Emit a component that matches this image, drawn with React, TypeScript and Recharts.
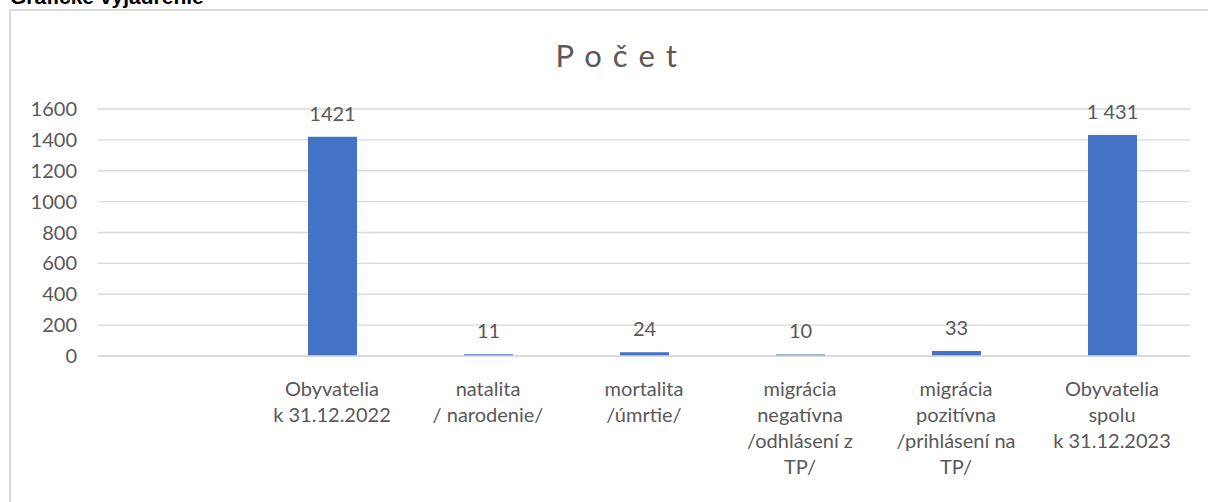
import React from 'react';
import { BarChart, Bar, XAxis, YAxis, CartesianGrid, LabelList } from 'recharts';

// categories (first slot is empty in the source chart)
const categories: string[][] = [
  [],
  ['Obyvatelia', 'k 31.12.2022'],
  ['natalita', '/ narodenie/'],
  ['mortalita', '/úmrtie/'],
  ['migrácia', 'negatívna', '/odhlásení z', 'TP/'],
  ['migrácia', 'pozitívna', '/prihlásení na', 'TP/'],
  ['Obyvatelia', 'spolu', 'k 31.12.2023'],
];
const values: (number | null)[] = [null, 1421, 11, 24, 10, 33, 1431];
const valueLabels: string[] = ['', '1421', '11', '24', '10', '33', '1 431'];
const yTicks: number[] = [0, 200, 400, 600, 800, 1000, 1200, 1400, 1600];

const FONT = 'Lato, "Open Sans", sans-serif';
const TEXT = '#595959';
const GRID = '#d9d9d9';
const BAR = '#4472C4';

const data = categories.map((c, i) => ({
  key: String(i),
  lines: c,
  value: values[i],
  label: valueLabels[i],
}));

const CategoryTick = (props: any) => {
  const { x, y, payload } = props;
  const lines = categories[Number(payload.value)] || [];
  return (
    <text x={x} y={y + 40} textAnchor="middle" fill={TEXT} fontSize={20} fontFamily={FONT}>
      {lines.map((l, i) => (
        <tspan key={i} x={x} dy={i === 0 ? 0 : 26}>{l}</tspan>
      ))}
    </text>
  );
};

export default function App() {
  return (
    <div style={{ position: 'fixed', inset: 0, overflow: 'hidden', background: '#fff' }}>
      <div
        style={{
          position: 'absolute', left: 10, top: -14, fontFamily: '"Liberation Sans", Arial, sans-serif',
          fontWeight: 'bold', fontSize: 21, lineHeight: '21px', color: '#000', whiteSpace: 'nowrap',
        }}
      >
        Grafické vyjadrenie
      </div>
      <div
        style={{
          position: 'absolute', left: 9, top: 9, width: 1240, height: 540,
          border: '2px solid #dadada',
        }}
      />
      <div
        style={{
          position: 'absolute', left: 0, top: 38, width: 1234, textAlign: 'center',
          fontFamily: FONT, fontSize: 31, color: TEXT, letterSpacing: 1.5, lineHeight: '34px',
        }}
      >
        P o č e t
      </div>
      <div style={{ position: 'absolute', left: 0, top: 0 }}>
        <BarChart width={1208} height={502} data={data} margin={{ top: 109, right: 18, bottom: 0, left: 0 }}>
          <CartesianGrid vertical={false} stroke={GRID} strokeWidth={1.3} />
          <XAxis
            dataKey="key"
            height={146}
            tickLine={false}
            tickSize={0}
            tickMargin={0}
            axisLine={{ stroke: GRID, strokeWidth: 1.3 }}
            tick={<CategoryTick />}
            interval={0}
          />
          <YAxis
            width={98}
            domain={[0, 1600]}
            ticks={yTicks}
            axisLine={false}
            tickLine={false}
            tickSize={0}
            tickMargin={21}
            tick={{ fill: TEXT, fontSize: 20, fontFamily: FONT }}
          />
          <Bar dataKey="value" fill={BAR} barSize={49} isAnimationActive={false}>
            <LabelList dataKey="label" position="top" offset={16} fill={TEXT} fontSize={20} fontFamily={FONT} />
          </Bar>
        </BarChart>
      </div>
    </div>
  );
}
